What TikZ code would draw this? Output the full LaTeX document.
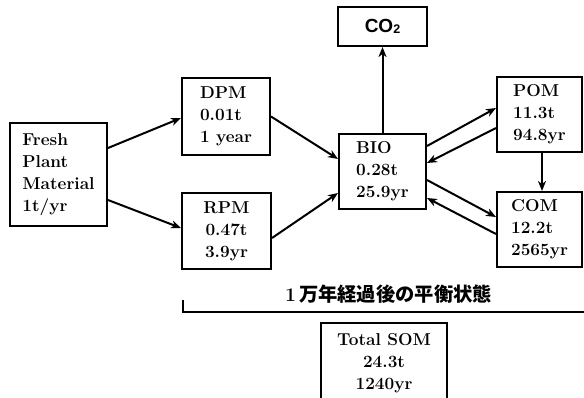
\documentclass[tikz,border=0pt]{standalone}
\usepackage{fontspec}
\newfontfamily\cjk{Noto Sans CJK JP}
\newfontfamily\sansf{Liberation Sans}
\usetikzlibrary{arrows.meta}
\begin{document}
\begin{tikzpicture}[x=1pt,y=-1pt,
  txt/.style={inner sep=0pt,align=left,font=\fontsize{17.2}{22}\selectfont\bfseries},
  box/.style={txt,draw,line width=2pt},
  arr/.style={line width=2pt,-{Stealth[length=10pt,width=8pt,inset=3pt]}}]
\useasboundingbox (0,0) rectangle (584,397);
\node[box,minimum width=97pt,minimum height=103pt] (fresh) at (58.5,174.5) {Fresh\\Plant\\Material\\1t/yr};
\node[box,minimum width=88pt,minimum height=77pt] (dpm) at (226,116.5) {DPM\\0.01t\\1 year};
\node[box,align=center,minimum width=89pt,minimum height=76pt] (rpm) at (226.5,231) {RPM\\0.47t\\3.9yr};
\node[box,minimum width=87pt,minimum height=75pt] (bio) at (382.5,171.5) {BIO\\0.28t\\25.9yr};
\node[box,minimum width=89pt,minimum height=39pt,font=\sansf\bfseries\fontsize{19}{20}\selectfont] (co2) at (382.5,26.5) {CO\raisebox{-1pt}{\fontsize{12.5}{12}\selectfont 2}};
\node[box,minimum width=85pt,minimum height=75pt] (pom) at (539.5,114.5) {POM\\11.3t\\94.8yr};
\node[box,minimum width=85pt,minimum height=75pt] (com) at (539.5,229.5) {COM\\12.2t\\2565yr};
\node[draw,line width=2pt,minimum width=126pt,minimum height=84pt,anchor=north] (sombox) at (384,322) {};
\node[txt,align=center,anchor=north] (som) at (384,333) {Total SOM\\24.3t\\1240yr};
\node[anchor=base west,inner sep=0pt,font=\fontsize{19.3}{20}\selectfont\bfseries] (lab) at (285,301.5) {1\hspace{3pt}{\cjk 万年経過後の平衡状態}};
\coordinate (brT) at (183,300);
\coordinate (brL) at (183,312);
\coordinate (brR) at (584,312);
\draw[line width=2pt] (brT) -- (brL) -- (brR);
\draw[arr] ([yshift=26.5pt]fresh.east) -- ([yshift=-1.5pt]dpm.west);
\draw[arr] ([yshift=-25.5pt]fresh.east) -- ([yshift=3pt]rpm.west);
\draw[arr] (dpm.east) -- ([yshift=12.5pt]bio.west);
\draw[arr] ([yshift=-7pt]rpm.east) -- ([yshift=-21.5pt]bio.west);
\draw[arr] (bio.north) -- (co2.south);
\draw[arr] ([yshift=25.5pt]bio.east) -- ([yshift=6.5pt]pom.west);
\draw[arr] ([yshift=-13.5pt]pom.west) -- ([yshift=8.5pt]bio.east);
\draw[arr] ([yshift=-8.5pt]bio.east) -- ([yshift=12.5pt]com.west);
\draw[arr] ([yshift=-4.5pt]com.west) -- ([yshift=-26.5pt]bio.east);
\draw[arr] ([xshift=2.5pt]pom.south) -- ([xshift=2.5pt]com.north);
\end{tikzpicture}
\end{document}
